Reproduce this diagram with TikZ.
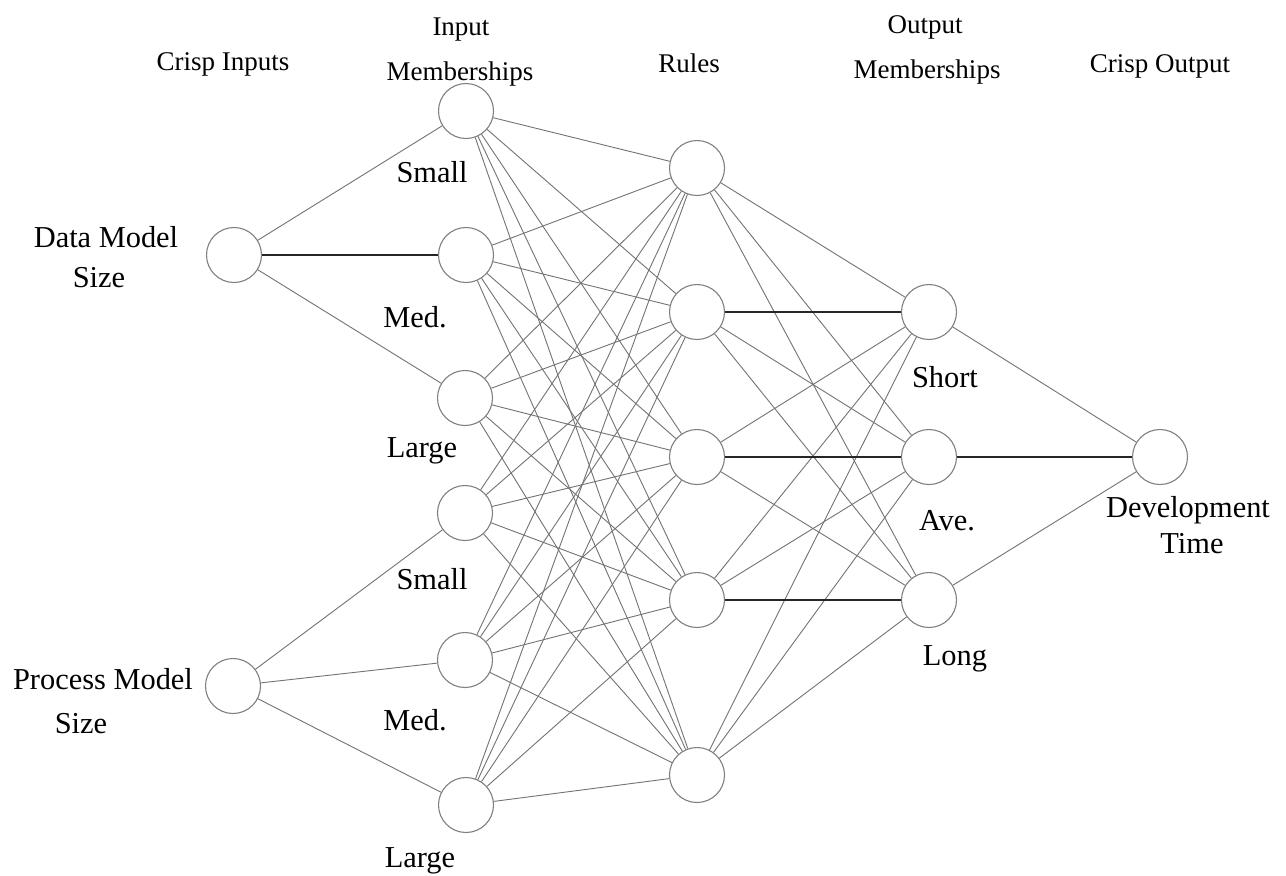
\documentclass[tikz,border=0pt]{standalone}
\usepackage{fontspec}
\setmainfont{Liberation Serif}
\begin{document}
\begin{tikzpicture}[x=0.5pt,y=-0.5pt,
  neuron/.style={circle,draw=black!50,line width=0.55pt,minimum size=27.5pt,inner sep=0pt},
  link/.style={draw=black!55,line width=0.45pt},
  strong/.style={draw=black!85,line width=0.85pt},
  head/.style={font=\fontsize{13.5}{16}\selectfont,anchor=base,inner sep=0pt},
  lab/.style={font=\fontsize{15.2}{18}\selectfont,anchor=base,inner sep=0pt}]
\useasboundingbox[fill=white] (0,0) rectangle (1286,875);

% crisp inputs
\node[neuron] (A1) at (234,255) {};
\node[neuron] (A2) at (233,686) {};
% input memberships
\node[neuron] (B1) at (466,111) {};
\node[neuron] (B2) at (466,255) {};
\node[neuron] (B3) at (465,398) {};
\node[neuron] (B4) at (465,513) {};
\node[neuron] (B5) at (465,660) {};
\node[neuron] (B6) at (466,805) {};
% rules
\node[neuron] (C1) at (697,168) {};
\node[neuron] (C2) at (697,312) {};
\node[neuron] (C3) at (697,457) {};
\node[neuron] (C4) at (697,600) {};
\node[neuron] (C5) at (697,775) {};
% output memberships
\node[neuron] (D1) at (929,312) {};
\node[neuron] (D2) at (929,457) {};
\node[neuron] (D3) at (929,600) {};
% crisp output
\node[neuron] (E) at (1160,457) {};

% connectors
\draw[link] (A1) -- (B1);
\draw[strong] (A1) -- (B2);
\draw[link] (A1) -- (B3);
\draw[link] (A2) -- (B4);
\draw[link] (A2) -- (B5);
\draw[link] (A2) -- (B6);
\foreach \b in {B1,B2,B3,B4,B5,B6}
  \foreach \c in {C1,C2,C3,C4,C5}
    \draw[link] (\b) -- (\c);
\foreach \c in {C1,C2,C3,C4,C5}
  \foreach \d in {D1,D2,D3}
    \draw[link] (\c) -- (\d);
\draw[strong] (C2) -- (D1);
\draw[strong] (C3) -- (D2);
\draw[strong] (C4) -- (D3);
\draw[link] (D1) -- (E);
\draw[strong] (D2) -- (E);
\draw[link] (D3) -- (E);

% headers
\node[head] (h1) at (223,70) {Crisp Inputs};
\node[head] (h2a) at (461,35) {Input};
\node[head] (h2b) at (460,80) {Memberships};
\node[head] (h3) at (689,72) {Rules};
\node[head] (h4a) at (925,33) {Output};
\node[head] (h4b) at (927,78) {Memberships};
\node[head] (h5) at (1160,72) {Crisp Output};

% input labels
\node[lab] (l1a) at (106,247) {Data Model};
\node[lab] (l1b) at (99,287) {Size};
\node[lab] (l2a) at (103,689) {Process Model};
\node[lab] (l2b) at (81,733) {Size};

% membership labels
\node[lab] (m1) at (432,182) {Small};
\node[lab] (m2) at (415,327) {Med.};
\node[lab] (m3) at (422,457) {Large};
\node[lab] (m4) at (432,589) {Small};
\node[lab] (m5) at (415,730) {Med.};
\node[lab] (m6) at (420,867) {Large};

\node[lab] (o1) at (945,387) {Short};
\node[lab] (o2) at (947,530) {Ave.};
\node[lab] (o3) at (955,665) {Long};

\node[lab] (t1) at (1188,517) {Development};
\node[lab] (t2) at (1192,553) {Time};
\end{tikzpicture}
\end{document}
